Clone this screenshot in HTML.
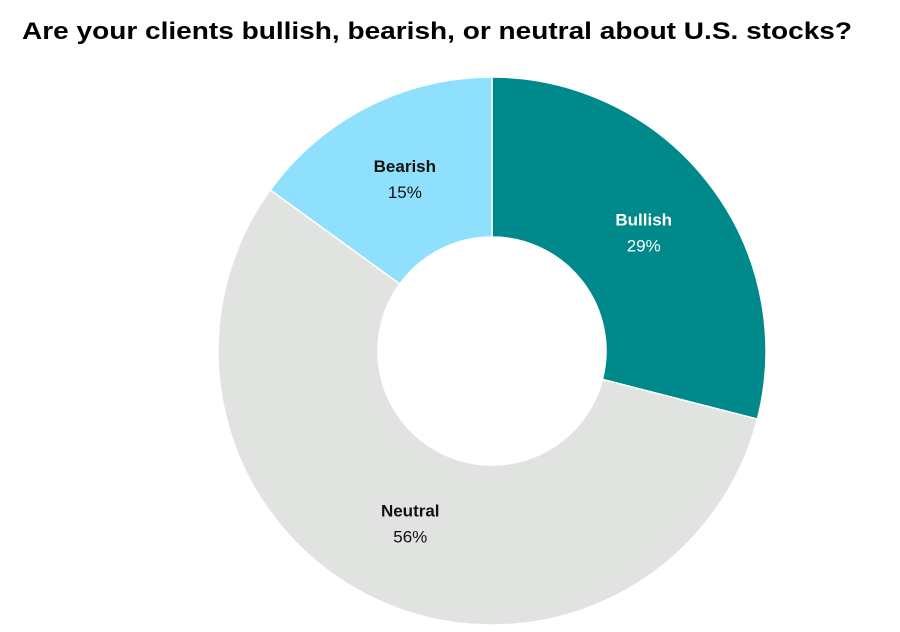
<!DOCTYPE html>
<html><head><meta charset="utf-8">
<style>
html,body{margin:0;padding:0;background:#fff;width:900px;height:632px;overflow:hidden}
svg{display:block}
text{font-family:"Liberation Sans",Arial,sans-serif}
</style></head>
<body>
<svg width="900" height="632" viewBox="0 0 900 632">
<text x="22" y="39" font-size="24" font-weight="bold" fill="#000" textLength="830" lengthAdjust="spacingAndGlyphs">Are your clients bullish, bearish, or neutral about U.S. stocks?</text>
<g id="slices"></g>
<g id="labels"></g>
</svg>
<script>
const categories = ["Bullish", "Neutral", "Bearish"];
const values = [29, 56, 15];
const colors = ["#00898a", "#e1e3e1", "#8fe0fc"];
const textColors = ["#ffffff", "#111111", "#111111"];
const cx = 492, cy = 351, R = 274, r = 114, LR = 192;
const total = values.reduce((a,b)=>a+b,0);
const ns = "http://www.w3.org/2000/svg";
const gS = document.getElementById('slices'), gL = document.getElementById('labels');
function pt(rad, a){ return [cx + rad*Math.sin(a), cy - rad*Math.cos(a)]; }
let acc = 0;
values.forEach((v,i)=>{
  const a0 = acc/total*2*Math.PI, a1 = (acc+v)/total*2*Math.PI; acc += v;
  const large = (a1-a0) > Math.PI ? 1 : 0;
  const [x0,y0]=pt(R,a0),[x1,y1]=pt(R,a1),[x2,y2]=pt(r,a1),[x3,y3]=pt(r,a0);
  const p = document.createElementNS(ns,'path');
  p.setAttribute('d',`M${x0},${y0}A${R},${R} 0 ${large} 1 ${x1},${y1}L${x2},${y2}A${r},${r} 0 ${large} 0 ${x3},${y3}Z`);
  p.setAttribute('fill',colors[i]);
  p.setAttribute('stroke','#fff');
  p.setAttribute('stroke-width','1.5');
  
  
  gS.appendChild(p);
  const am = (a0+a1)/2; const [lx,ly] = pt(LR, am);
  const t1 = document.createElementNS(ns,'text');
  t1.setAttribute('x',lx); t1.setAttribute('y',ly-8);
  t1.setAttribute('text-anchor','middle'); t1.setAttribute('font-size','17');
  t1.setAttribute('font-weight','bold'); t1.setAttribute('fill',textColors[i]);
  t1.textContent = categories[i];
  
  
  gL.appendChild(t1);
  const t2 = document.createElementNS(ns,'text');
  t2.setAttribute('x',lx); t2.setAttribute('y',ly+18);
  t2.setAttribute('text-anchor','middle'); t2.setAttribute('font-size','17');
  t2.setAttribute('fill',textColors[i]);
  t2.textContent = v + '%';
  
  
  gL.appendChild(t2);
});
</script>
</body></html>
